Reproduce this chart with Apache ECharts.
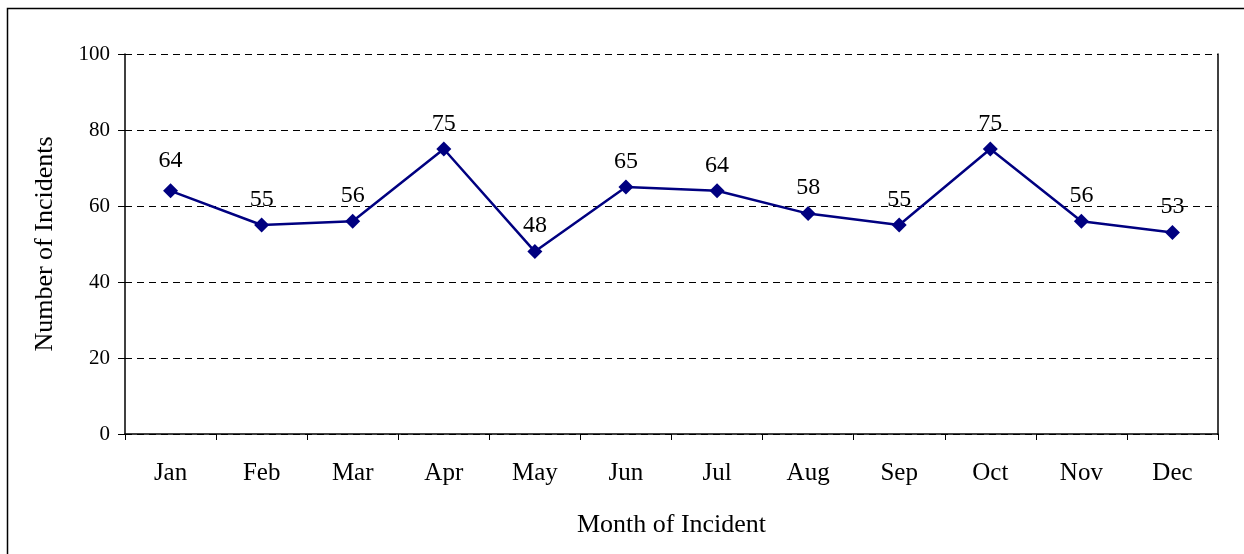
<!DOCTYPE html>
<html>
  <head>
    <meta charset="UTF-8" />
    <title></title>
    <style type="text/css">
      html,
      body {
        width: 100%;
        height: 100%;
        margin: 0;
        padding: 0;
        overflow: hidden;
        background: #fff;
      }
      #chart {
        width: 1244px;
        height: 554px;
      }
    </style>
  </head>
  <body>
    <div id="chart"></div>
    <script src="https://cdn.jsdelivr.net/npm/echarts@6/dist/echarts.min.js"></script>
    <script type="text/javascript">
      const months = ["Jan", "Feb", "Mar", "Apr", "May", "Jun", "Jul", "Aug", "Sep", "Oct", "Nov", "Dec"];
      const incidents = [64, 55, 56, 75, 48, 65, 64, 58, 55, 75, 56, 53];
      const yTicks = [0, 20, 40, 60, 80, 100];

      const font = "Liberation Serif";
      const chart = echarts.init(document.getElementById("chart"));

      // Jan label sits a little higher than the others in the original
      const seriesData = incidents.map((v, i) => {
        if (i === 0) {
          return { value: v, label: { offset: [0, -5] } };
        }
        return v;
      });

      const option = {
        backgroundColor: "#fff",
        animation: false,
        graphic: [
          {
            type: "rect",
            shape: { x: 7.5, y: 8.5, width: 1260, height: 600 },
            style: { fill: "none", stroke: "#000", lineWidth: 1.5 },
            silent: true,
          },
        ],
        grid: { left: 125, right: 26, top: 54, bottom: 120 },
        xAxis: {
          type: "category",
          data: months,
          boundaryGap: true,
          name: "Month of Incident",
          nameLocation: "middle",
          nameGap: 78,
          nameTextStyle: { fontFamily: font, fontSize: 26, color: "#000" },
          axisLine: { lineStyle: { color: "#000", width: 1.5 } },
          axisTick: { show: true, alignWithLabel: false, length: 6, lineStyle: { color: "#000" } },
          axisLabel: { fontFamily: font, fontSize: 25, color: "#000", margin: 27 },
          splitLine: { show: false },
        },
        yAxis: [
          {
            type: "value",
            min: 0,
            max: 100,
            interval: 20,
            name: "Number of Incidents",
            nameLocation: "middle",
            nameGap: 67,
            nameTextStyle: { fontFamily: font, fontSize: 26, color: "#000" },
            axisLine: { show: true, lineStyle: { color: "#000", width: 1.5 } },
            axisTick: { show: true, length: 7, lineStyle: { color: "#000" } },
            axisLabel: {
              fontFamily: font,
              fontSize: 21,
              color: "#000",
              margin: 15,
              formatter: (v) => (yTicks.indexOf(v) >= 0 ? String(v) : ""),
            },
            splitLine: {
              show: true,
              lineStyle: { color: "#000", type: [7, 5], width: 1 },
            },
          },
          {
            type: "value",
            min: 0,
            max: 100,
            interval: 20,
            position: "right",
            axisLine: { show: true, lineStyle: { color: "#000", width: 1.5 } },
            axisTick: { show: false },
            axisLabel: { show: false },
            splitLine: { show: false },
          },
        ],
        series: [
          {
            type: "line",
            data: seriesData,
            symbol: "diamond",
            symbolSize: 15,
            lineStyle: { color: "#000080", width: 2.5 },
            itemStyle: { color: "#000080" },
            label: {
              show: true,
              position: "top",
              distance: 6,
              fontFamily: font,
              fontSize: 24,
              color: "#000",
            },
          },
        ],
      };
      chart.setOption(option);
    </script>
  </body>
</html>
